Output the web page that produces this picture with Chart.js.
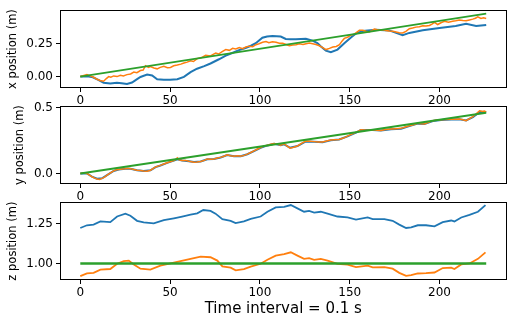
<!DOCTYPE html>
<html><head><meta charset="utf-8">
<script src="https://cdn.jsdelivr.net/npm/chart.js@4/dist/chart.umd.min.js"></script>
<style>
html,body{margin:0;padding:0;background:#fff;}
#wrap{position:relative;width:513px;height:323px;overflow:hidden;background:#fff;}
canvas{position:absolute;left:0;}
</style></head><body>
<div id="wrap">
<canvas id="c1" style="top:0px" width="513" height="112"></canvas>
<canvas id="c2" style="top:96px" width="513" height="112"></canvas>
<canvas id="c3" style="top:192px" width="513" height="131"></canvas>
</div>
<script>
// ---------- data (time index, position in m) ----------
const xTicks = [0, 50, 100, 150, 200];

// panel 1: x position
const xBlueT = [0,4,7,10,13,16.7,20.4,23,26,28.8,31,33.5,37.2,40,42.8,46.5,50,54,57.7,61.4,65,69,72.5,77.2,81,84.6,88,92,95,97.7,101.4,104,107,111.6,114.4,117,120,125.6,129.3,132,134,136.7,139.5,143.2,147,150.7,153.5,157.2,164.6,172,175.8,179.5,183.2,190.7,200,209,214.8,220.4,226];
const xBlueV = [0,0.002,-0.005,-0.025,-0.047,-0.052,-0.047,-0.05,-0.057,-0.045,-0.025,-0.003,0.015,0.008,-0.02,-0.025,-0.024,-0.02,-0.002,0.034,0.06,0.08,0.1,0.132,0.16,0.18,0.2,0.218,0.235,0.254,0.296,0.306,0.309,0.305,0.287,0.284,0.285,0.289,0.274,0.255,0.23,0.198,0.186,0.206,0.254,0.298,0.328,0.348,0.357,0.352,0.333,0.316,0.333,0.353,0.37,0.385,0.402,0.385,0.394];
const xOrangeT = [0,2,3.7,5.5,7.4,9.3,11,13,14.5,15.8,17,18.6,20.5,22.3,24,26,28,29.8,31.5,33.5,35,36.3,38,39,41,42.8,44.5,46.5,48.5,50.2,52,54,56,57.7,59.5,61.4,63,65.1,67.5,69.8,72.5,74,75.4,77,79,81,83,84.8,86.6,88.5,90.4,92.2,94,96,97.8,99.5,101.5,103.4,105,107,109,110.8,112.7,114.5,116.4,118.3,120.1,122,124,125.7,127.5,129.4,131.2,133.1,135,136.8,138.7,140.6,142.5,144.3,145.7,147,148.8,150.7,152,153.5,155.4,157.2,159,160.9,162.3,163.7,166,168.3,170,172,174,175.8,177.6,179.5,181.3,183.2,185,186.9,188.8,190.7,192.5,194.4,195.8,197.2,199,200.8,202.7,205,207.3,209,211,213,214.8,216.7,218.5,220,221.3,223.1,224.5,226];
const xOrangeV = [0,0.008,0.015,0.005,-0.005,-0.02,-0.03,-0.035,-0.015,0,-0.005,0.005,0,0.01,0.005,0.015,0.02,0.034,0.03,0.046,0.05,0.083,0.07,0.076,0.065,0.059,0.07,0.078,0.068,0.07,0.082,0.088,0.095,0.103,0.11,0.12,0.115,0.137,0.145,0.162,0.157,0.17,0.18,0.172,0.19,0.206,0.2,0.215,0.21,0.222,0.212,0.225,0.232,0.228,0.243,0.25,0.262,0.267,0.258,0.265,0.262,0.255,0.255,0.245,0.235,0.24,0.243,0.25,0.245,0.25,0.255,0.25,0.245,0.235,0.22,0.206,0.215,0.225,0.23,0.243,0.27,0.291,0.3,0.316,0.32,0.333,0.353,0.353,0.345,0.34,0.35,0.362,0.355,0.357,0.352,0.348,0.345,0.34,0.335,0.333,0.345,0.365,0.37,0.377,0.38,0.387,0.385,0.39,0.4,0.414,0.397,0.41,0.421,0.415,0.421,0.425,0.431,0.428,0.426,0.432,0.438,0.445,0.456,0.443,0.448,0.443];
const xGreenT = [0, 226];
const xGreenV = [0, 0.48];

// panel 2: y position
const yOrangeT = [0,2,3.7,5,6.5,8,9.3,10.7,12.1,13.5,14.9,16.8,18.6,20,21.4,23.3,25.1,26.5,27.9,29.8,31.6,33.5,35.3,37.2,39.1,40.5,41.9,43.3,44.6,46.5,48.4,50.3,52.1,53,54,55,56.7,58.6,60.5,62,63.3,65,67,69,70.7,72.5,74.4,76.3,78.1,80,81.8,83.7,85.6,87.5,89.3,91.2,93,94.9,96.7,98.5,100.4,102.3,104.2,106,107.9,109.8,111.6,113.5,115,116.8,118.8,120.9,123.2,125.6,128,130.2,132.5,134.9,137.2,139.5,141.8,144.1,146.5,148.8,151.2,153.5,156.2,159.5,162.7,165,167.4,170,173,175.8,178.6,181,183.2,185.5,187.9,189.8,191.6,194,196.3,198.6,200.9,203.7,206.5,208.8,211.1,213,214.8,216.7,218.6,220.5,222.3,224,225,226];
const yOrangeV = [0,0.005,0,-0.01,-0.025,-0.035,-0.042,-0.045,-0.037,-0.028,-0.013,0.005,0.02,0.028,0.03,0.035,0.037,0.04,0.037,0.03,0.025,0.023,0.02,0.018,0.025,0.038,0.05,0.056,0.062,0.072,0.082,0.092,0.099,0.105,0.119,0.105,0.099,0.1,0.094,0.09,0.086,0.088,0.091,0.1,0.111,0.108,0.111,0.118,0.123,0.132,0.143,0.136,0.131,0.135,0.131,0.138,0.148,0.16,0.173,0.185,0.198,0.21,0.215,0.223,0.228,0.222,0.215,0.227,0.21,0.193,0.2,0.21,0.23,0.247,0.245,0.243,0.24,0.24,0.248,0.255,0.258,0.26,0.27,0.285,0.3,0.314,0.334,0.33,0.334,0.33,0.327,0.335,0.339,0.342,0.344,0.355,0.364,0.372,0.383,0.38,0.378,0.39,0.403,0.407,0.41,0.411,0.413,0.414,0.415,0.41,0.403,0.418,0.433,0.455,0.478,0.472,0.476,0.47];
const yBlueT = [0,3.7,6.5,9.3,12.1,14.9,18.6,21.4,25.1,27.9,31.6,35.3,39.1,41.9,44.6,48.4,52.1,54,56.7,60.5,63.3,67,70.7,74.4,78.1,81.8,85.6,89.3,93,96.7,100.4,104.2,107.9,111.6,113.5,116.8,120.9,125.6,130.2,134.9,139.5,144.1,148.8,153.5,156.2,162.7,167.4,173,178.6,183.2,187.9,191.6,196.3,200.9,206.5,211.1,214.8,218.6,222.3,226];
const yBlueV = [0,0,-0.024,-0.04,-0.036,-0.012,0.019,0.03,0.036,0.036,0.025,0.02,0.025,0.049,0.061,0.081,0.098,0.108,0.099,0.094,0.087,0.091,0.108,0.111,0.122,0.14,0.131,0.132,0.147,0.171,0.196,0.214,0.226,0.216,0.222,0.196,0.209,0.244,0.242,0.239,0.253,0.259,0.283,0.311,0.331,0.332,0.327,0.337,0.342,0.361,0.38,0.378,0.4,0.408,0.411,0.413,0.404,0.43,0.47,0.468];
const yGreenT = [0, 226];
const yGreenV = [0, 0.463];

// panel 3: z position
const zBlueT = [0,3.7,7.4,11.2,16.7,20.5,25.1,27.9,31.6,35.3,40.9,46.5,52.1,56.7,61.4,65.1,68.5,72.5,75.3,79.1,83.7,86.5,91.1,94.9,100.4,104.2,108.8,113.5,117.2,120.9,124.6,127.4,130.2,133.9,137.7,143.2,148.8,153.5,160,162.8,169.3,173.9,177.6,181.4,184.2,187.9,192.5,197.2,201.8,206.5,208.3,212.1,216.7,221.4,225.6];
const zBlueV = [1.223,1.24,1.244,1.264,1.26,1.295,1.313,1.3,1.268,1.258,1.252,1.272,1.284,1.295,1.307,1.315,1.336,1.33,1.313,1.278,1.268,1.254,1.264,1.28,1.295,1.325,1.352,1.356,1.367,1.346,1.325,1.33,1.32,1.325,1.313,1.295,1.289,1.276,1.289,1.278,1.278,1.268,1.244,1.223,1.227,1.24,1.24,1.233,1.26,1.27,1.264,1.289,1.305,1.325,1.367];
const zOrangeT = [0,3.7,7.4,11.2,16.7,20.5,24.2,27,29.8,33.5,39,44.6,50.2,55.8,61.4,67,72.5,76.3,79.1,83.7,86.5,91.1,94.9,100.4,104.2,108.8,113.5,117.2,120.9,124.6,127.4,130.2,133.9,137.7,143.2,148.8,153.5,160,162.8,169.3,173.9,177.6,181.4,184.2,187.9,192.5,197.2,201.8,206.5,208.3,212.1,216.7,221.4,225.6];
const zOrangeV = [0.92,0.937,0.941,0.961,0.965,0.998,1.014,1.018,0.994,0.967,0.961,0.986,1.0,1.014,1.029,1.043,1.039,1.018,0.982,0.974,0.957,0.965,0.98,0.998,1.023,1.049,1.059,1.07,1.049,1.029,1.033,1.023,1.029,1.018,0.998,0.992,0.977,0.986,0.975,0.977,0.967,0.941,0.922,0.926,0.937,0.939,0.943,0.971,0.974,0.965,0.994,1.0,1.029,1.07];
const zGreenT = [0, 226];
const zGreenV = [1.0, 1.0];

// tick labels
const xTickValues = [0, 0.25], xTickLabels = ['0.00', '0.25'];
const yTickValues = [0, 0.5],  yTickLabels = ['0.0', '0.5'];
const zTickValues = [1.0, 1.25], zTickLabels = ['1.00', '1.25'];
const yTitles = ['x position (m)', 'y position (m)', 'z position (m)'];
const xTitle = 'Time interval = 0.1 s';

// ---------- drawing ----------
const BLUE = '#1f77b4', ORANGE = '#ff7f0e', GREEN = '#2ca02c';
const FONT = 'DejaVu Sans';
const pts = (t, v) => t.map((x, i) => ({x: x, y: v[i]}));

const frame = {
  id: 'frame',
  afterDatasetsDraw(chart) {
    const {ctx, chartArea: a} = chart;
    ctx.save();
    ctx.strokeStyle = '#000';
    ctx.lineWidth = 1;
    const l = Math.round(a.left) + 0.5, t = Math.round(a.top) + 0.5;
    const r = Math.round(a.right) - 0.5, b = Math.round(a.bottom) - 0.5;
    ctx.strokeRect(l, t, r - l, b - t);
    ctx.restore();
  }
};

// order: higher = drawn earlier (behind); matplotlib draws blue, then orange, then green on top
function ds(t, v, color, w, order) {
  return {data: pts(t, v), borderColor: color, backgroundColor: color, borderWidth: w,
          pointRadius: 0, tension: 0, fill: false, order: order};
}

function make(id, datasets, yMin, yMax, tv, tl, title, titlePad, withXTitle) {
  const canvas = document.getElementById(id);
  const xAxisH = canvas.height - 88;
  return new Chart(canvas, {
    type: 'line',
    data: {datasets: datasets},
    options: {
      responsive: false, animation: false, maintainAspectRatio: false,
      layout: {padding: {left: 0, right: 6.5, top: 8.3, bottom: 0}},
      plugins: {legend: {display: false}, tooltip: {enabled: false}},
      scales: {
        x: {
          type: 'linear', position: 'bottom', min: -11.3, max: 237.3,
          afterBuildTicks: s => { s.ticks = xTicks.map(v => ({value: v})); },
          afterFit: s => { s.height = xAxisH; },
          grid: {display: true, drawOnChartArea: false, drawTicks: true, tickLength: 4, color: '#000', lineWidth: 1},
          border: {display: false},
          ticks: {color: '#000', font: {family: FONT, size: 12}, padding: 2, maxRotation: 0, autoSkip: false,
                  callback: v => String(v)},
          title: withXTitle ? {display: true, text: xTitle, color: '#000', font: {family: FONT, size: 15},
                               padding: {top: 0, bottom: 5}} : {display: false}
        },
        y: {
          type: 'linear', position: 'left', min: yMin, max: yMax,
          afterBuildTicks: s => { s.ticks = tv.map(v => ({value: v})); },
          afterFit: s => { s.width = 60; },
          grid: {display: true, drawOnChartArea: false, drawTicks: true, tickLength: 4, color: '#000', lineWidth: 1},
          border: {display: false},
          ticks: {color: '#000', font: {family: FONT, size: 12}, padding: 3, autoSkip: false,
                  callback: v => { const i = tv.indexOf(v); return i >= 0 ? tl[i] : ''; }},
          title: {display: true, text: title, color: '#000', font: {family: FONT, size: 11.5},
                  padding: {top: titlePad, bottom: 0}}
        }
      }
    },
    plugins: [frame]
  });
}

make('c1', [ds(xBlueT, xBlueV, BLUE, 2, 3), ds(xOrangeT, xOrangeV, ORANGE, 1.5, 2), ds(xGreenT, xGreenV, GREEN, 1.8, 1)],
     -0.087, 0.506, xTickValues, xTickLabels, yTitles[0], 6.2, false);
make('c2', [ds(yBlueT, yBlueV, BLUE, 2, 3), ds(yOrangeT, yOrangeV, ORANGE, 1.5, 2), ds(yGreenT, yGreenV, GREEN, 1.8, 1)],
     -0.08, 0.513, yTickValues, yTickLabels, yTitles[1], 13.4, false);
make('c3', [ds(zBlueT, zBlueV, BLUE, 1.8, 3), ds(zOrangeT, zOrangeV, ORANGE, 1.8, 2), ds(zGreenT, zGreenV, GREEN, 2.5, 1)],
     0.896, 1.385, zTickValues, zTickLabels, yTitles[2], 6.2, true);
</script>
</body></html>
